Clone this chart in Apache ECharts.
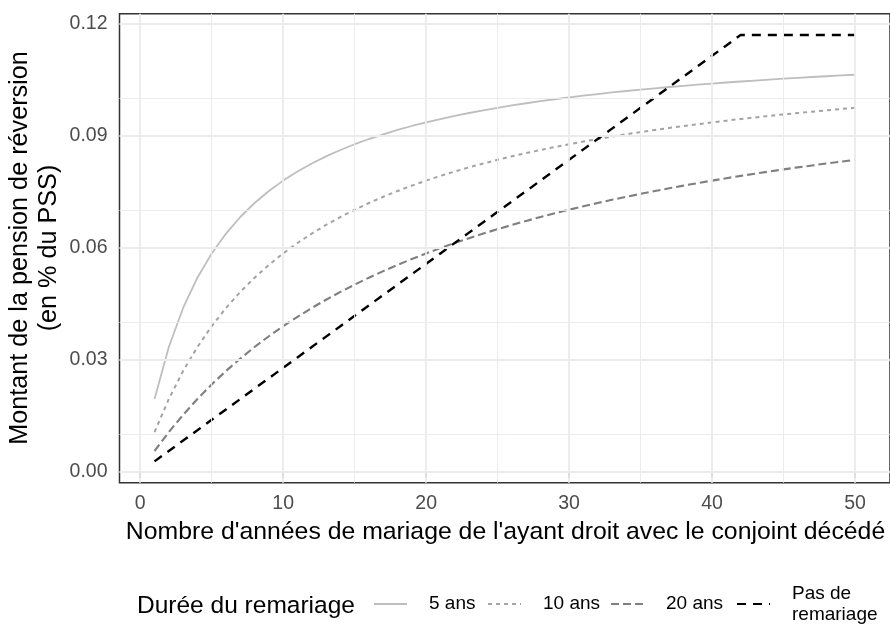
<!DOCTYPE html>
<html>
<head>
<meta charset="utf-8">
<script src="https://cdn.jsdelivr.net/npm/echarts@6/dist/echarts.min.js"></script>
<style>
html,body{margin:0;padding:0;background:#fff;}
#chart{width:890px;height:625px;}
</style>
</head>
<body>
<div id="chart"></div>
<script>
// Years of marriage of the surviving spouse with the deceased spouse
const years = [1,2,3,4,5,6,7,8,9,10,11,12,13,14,15,16,17,18,19,20,21,22,23,24,25,26,27,28,29,30,31,32,33,34,35,36,37,38,39,40,41,42,43,44,45,46,47,48,49,50];

// Remarriage of 5 years
const rem5 = [0.0195,0.03343,0.04388,0.0520,0.0585,0.06382,0.06825,0.0720,0.07521,0.0780,
  0.08044,0.08259,0.0845,0.08621,0.08775,0.08914,0.09041,0.09157,0.09263,0.0936,
  0.0945,0.09533,0.09611,0.09683,0.0975,0.09813,0.09872,0.09927,0.09979,0.10029,
  0.10075,0.10119,0.10161,0.1020,0.10238,0.10273,0.10307,0.1034,0.1037,0.1040,
  0.10428,0.10455,0.10481,0.10506,0.1053,0.10553,0.10575,0.10596,0.10617,0.10636];

// Remarriage of 10 years
const rem10 = [0.01064,0.0195,0.0270,0.03343,0.0390,0.04388,0.04818,0.0520,0.05542,0.0585,
  0.06129,0.06382,0.06613,0.06825,0.0702,0.0720,0.07367,0.07521,0.07666,0.0780,
  0.07926,0.08044,0.08155,0.08259,0.08357,0.0845,0.08538,0.08621,0.0870,0.08775,
  0.08846,0.08914,0.08979,0.09041,0.0910,0.09157,0.09211,0.09263,0.09312,0.0936,
  0.09406,0.0945,0.09492,0.09533,0.09573,0.09611,0.09647,0.09683,0.09717,0.0975];

// Remarriage of 20 years
const rem20 = [0.00557,0.01064,0.01526,0.0195,0.0234,0.0270,0.03033,0.03343,0.03631,0.0390,
  0.04152,0.04388,0.04609,0.04818,0.05014,0.0520,0.05376,0.05542,0.0570,0.0585,
  0.05993,0.06129,0.06258,0.06382,0.0650,0.06613,0.06721,0.06825,0.06924,0.0702,
  0.07112,0.0720,0.07285,0.07367,0.07445,0.07521,0.07595,0.07666,0.07734,0.0780,
  0.07864,0.07926,0.07986,0.08044,0.0810,0.08155,0.08207,0.08259,0.08309,0.08357];

// No remarriage
const noRem = [0.00279,0.00557,0.00836,0.01114,0.01393,0.01671,0.0195,0.02229,0.02507,0.02786,
  0.03064,0.03343,0.03621,0.0390,0.04179,0.04457,0.04736,0.05014,0.05293,0.05571,
  0.0585,0.06129,0.06407,0.06686,0.06964,0.07243,0.07521,0.0780,0.08079,0.08357,
  0.08636,0.08914,0.09193,0.09471,0.0975,0.10029,0.10307,0.10586,0.10864,0.11143,
  0.11421,0.1170,0.1170,0.1170,0.1170,0.1170,0.1170,0.1170,0.1170,0.1170];

const seriesNames = ['5 ans','10 ans','20 ans','Pas de\nremariage'];
const xTicks = [0,10,20,30,40,50];
const xMinor = [5,15,25,35,45];
const yTicks = [0,0.03,0.06,0.09,0.12];
const yMinor = [0.015,0.045,0.075,0.105];

const FONT = "'Liberation Sans', Arial, sans-serif";
const pairs = (vals) => years.map((x,i) => [x, vals[i]]);

const gridMarks = []
  .concat(xTicks.map(v => ({xAxis:v, lineStyle:{color:'#EBEBEB', width:1.8, type:'solid'}})))
  .concat(xMinor.map(v => ({xAxis:v, lineStyle:{color:'#EBEBEB', width:0.9, type:'solid'}})))
  .concat(yTicks.map(v => ({yAxis:v, lineStyle:{color:'#EBEBEB', width:1.8, type:'solid'}})))
  .concat(yMinor.map(v => ({yAxis:v, lineStyle:{color:'#EBEBEB', width:0.9, type:'solid'}})));

const styles = [
  {color:'#BEBEBE', width:1.8, type:'solid'},
  {color:'#A3A3A3', width:2.0, type:[4,4]},
  {color:'#7F7F7F', width:2.1, type:[8,4]},
  {color:'#000000', width:2.4, type:[9,7]}
];
const dataSets = [rem5, rem10, rem20, noRem];

const legendLefts = [373, 487, 610, 736];
const legendTops = [593.5, 593.5, 593.5, 583];

const chart = echarts.init(document.getElementById('chart'), null, {renderer:'canvas'});
chart.setOption({
  animation: false,
  backgroundColor: '#ffffff',
  grid: {left: 119.5, top: 13.7, width: 772.5, height: 469, show: true,
         borderColor: '#333333', borderWidth: 1.5, backgroundColor: 'transparent', containLabel: false},
  xAxis: {
    type: 'value', min: -1.45, max: 52.45,
    axisLine: {show: false},
    axisTick: {show: true, customValues: xTicks, length: 6, lineStyle: {color: '#333333', width: 1.5}},
    axisLabel: {show: true, customValues: xTicks, color: '#4D4D4D', fontSize: 19.5, fontFamily: FONT, margin: 11},
    splitLine: {show: false}
  },
  yAxis: {
    type: 'value', min: -0.00292, max: 0.12271,
    axisLine: {show: false},
    axisTick: {show: true, customValues: yTicks, length: 6, lineStyle: {color: '#333333', width: 1.5}},
    axisLabel: {show: true, customValues: yTicks, color: '#4D4D4D', fontSize: 19.5, fontFamily: FONT, margin: 12,
                formatter: v => v.toFixed(2)},
    splitLine: {show: false}
  },
  legend: seriesNames.map((n, i) => ({
    data: [n], left: legendLefts[i], top: legendTops[i], orient: 'horizontal',
    padding: 0, itemWidth: 33, itemHeight: 14, selectedMode: false,
    itemStyle: {opacity: 0, borderWidth: 0},
    textStyle: {fontSize: 19, fontFamily: FONT, color: '#000', lineHeight: 21, padding: [0,0,0,17]}
  })),
  graphic: [
    {type: 'text', x: 505.5, y: 532, silent: true,
     style: {text: "Nombre d'années de mariage de l'ayant droit avec le conjoint décédé", x: 0, y: 0,
             align: 'center', verticalAlign: 'middle', font: '24.8px ' + FONT, fill: '#000'}},
    {type: 'text', x: 35, y: 248, rotation: Math.PI / 2, silent: true,
     style: {text: 'Montant de la pension de réversion\n(en % du PSS)', x: 0, y: 0,
             align: 'center', verticalAlign: 'middle', font: '25.2px ' + FONT, lineHeight: 29, fill: '#000'}},
    {type: 'text', x: 137, y: 606, silent: true,
     style: {text: 'Durée du remariage', x: 0, y: 0, align: 'left', verticalAlign: 'middle',
             font: '24.5px ' + FONT, fill: '#000'}}
  ],
  series: [
    {type: 'line', name: '_grid', data: [], silent: true, z: 1, legendHoverLink: false,
     markLine: {silent: true, symbol: ['none','none'], label: {show: false}, animation: false, data: gridMarks}}
  ].concat(seriesNames.map((n, i) => ({
    type: 'line', name: n, data: pairs(dataSets[i]), showSymbol: false, symbol: 'none',
    smooth: false, z: 3, lineStyle: styles[i], itemStyle: {color: styles[i].color}
  })))
});
</script>
</body>
</html>
